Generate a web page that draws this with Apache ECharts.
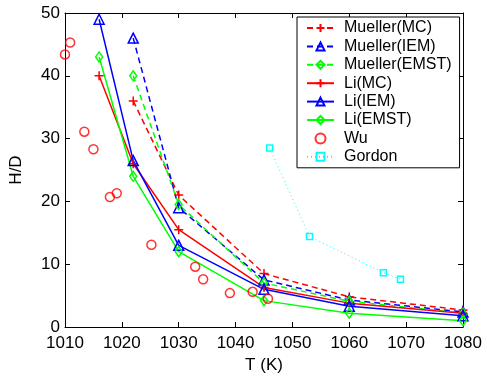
<!DOCTYPE html>
<html>
<head>
<meta charset="utf-8">
<script src="https://cdn.jsdelivr.net/npm/echarts@6/dist/echarts.min.js"></script>
<style>
  html, body { margin: 0; padding: 0; background: #fff; }
  #chart { width: 487px; height: 379px; }
</style>
</head>
<body>
<div id="chart"></div>
<script>
// Temperatures (K) of each model run
const muellerT = [1022, 1030, 1045, 1060, 1080];
const liT = [1016, 1022, 1030, 1045, 1060, 1080];

// Flame height ratio H/D for each model
const muellerMC = [36, 21, 8.5, 4.8, 2.7];
const muellerIEM = [46, 19, 7.5, 4.3, 2.4];
const muellerEMST = [40, 19.5, 7.0, 4.1, 2.2];
const liMC = [40, 26, 15.5, 6.3, 3.8, 2.2];
const liIEM = [49, 26.5, 13, 6.0, 3.3, 1.8];
const liEMST = [43, 24, 12, 4.2, 2.2, 1.0];

// Measurements
const wuT = [1010, 1010.9, 1013.4, 1015, 1017.9, 1019.1, 1025.2, 1032.9, 1034.3, 1039, 1043, 1045.7];
const wuH = [43.4, 45.3, 31.1, 28.3, 20.7, 21.3, 13.1, 9.6, 7.6, 5.4, 5.6, 4.5];
const gordonT = [1046, 1053, 1066, 1069];
const gordonH = [28.5, 14.4, 8.65, 7.6];

const xTicks = { min: 1010, max: 1080, interval: 10 };
const yTicks = { min: 0, max: 50, interval: 10 };

const FONT = 'Liberation Sans, Arial, Helvetica, sans-serif';
const PLUS = 'path://M5,0L5,10M0,5L10,5';

function pairs(xs, ys) { return xs.map((x, i) => [x, ys[i]]); }

function lineSeries(name, xs, ys, color, dashed, symbol, size) {
  return {
    name, type: 'line', data: pairs(xs, ys),
    symbol, symbolSize: size, showSymbol: true,
    lineStyle: { color, width: 1.5, type: dashed ? [6, 4] : 'solid' },
    itemStyle: { color: 'none', borderColor: color, borderWidth: 1.5 },
    emphasis: { disabled: true },
    animation: false, z: 3
  };
}

const chart = echarts.init(document.getElementById('chart'));

const baseAxis = {
  axisLine: { show: true, onZero: false, lineStyle: { color: '#000', width: 1 } },
  axisTick: { show: true, inside: true, length: 5, lineStyle: { color: '#000' } },
  splitLine: { show: false }
};

chart.setOption({
  backgroundColor: '#fff',
  animation: false,
  grid: { left: 64, right: 24, top: 13, bottom: 52 },
  xAxis: [
    Object.assign({}, baseAxis, {
      type: 'value', position: 'bottom', ...xTicks,
      name: 'T (K)', nameLocation: 'middle', nameGap: 30,
      nameTextStyle: { fontFamily: FONT, fontSize: 17, color: '#000' },
      axisLabel: { fontFamily: FONT, fontSize: 17, color: '#000', margin: 8,
                   formatter: v => String(v) }
    }),
    Object.assign({}, baseAxis, {
      type: 'value', position: 'top', ...xTicks,
      axisLabel: { show: false }
    })
  ],
  yAxis: [
    Object.assign({}, baseAxis, {
      type: 'value', position: 'left', ...yTicks,
      name: 'H/D', nameLocation: 'middle', nameGap: 40,
      nameTextStyle: { fontFamily: FONT, fontSize: 17, color: '#000' },
      axisLabel: { fontFamily: FONT, fontSize: 17, color: '#000', margin: 5 }
    }),
    Object.assign({}, baseAxis, {
      type: 'value', position: 'right', ...yTicks,
      axisLabel: { show: false }
    })
  ],
  legend: {
    orient: 'vertical', left: 297, top: 17,
    backgroundColor: '#fff', borderColor: '#000', borderWidth: 1,
    padding: [3, 8, 3, 9],
    itemWidth: 27, itemHeight: 10, itemGap: 2.4,
    textStyle: { fontFamily: FONT, fontSize: 16, color: '#000', padding: [0, 0, 0, 5] },
    data: ['Mueller(MC)', 'Mueller(IEM)', 'Mueller(EMST)', 'Li(MC)', 'Li(IEM)', 'Li(EMST)', 'Wu', 'Gordon']
  },
  series: [
    lineSeries('Mueller(MC)', muellerT, muellerMC, '#ff0000', true, PLUS, 9),
    lineSeries('Mueller(IEM)', muellerT, muellerIEM, '#0000ff', true, 'triangle', 10),
    lineSeries('Mueller(EMST)', muellerT, muellerEMST, '#00ff00', true, 'diamond', [7, 10]),
    lineSeries('Li(MC)', liT, liMC, '#ff0000', false, PLUS, 9),
    lineSeries('Li(IEM)', liT, liIEM, '#0000ff', false, 'triangle', 10),
    lineSeries('Li(EMST)', liT, liEMST, '#00ff00', false, 'diamond', [7, 10]),
    {
      name: 'Wu', type: 'scatter', data: pairs(wuT, wuH),
      symbol: 'circle', symbolSize: 9, clip: false,
      itemStyle: { color: 'none', borderColor: '#ff0000', borderWidth: 1.5 },
      emphasis: { disabled: true }, z: 3
    },
    {
      name: 'Gordon', type: 'line', data: pairs(gordonT, gordonH),
      symbol: 'rect', symbolSize: 6,
      lineStyle: { color: '#00ffff', width: 1, type: [1, 3] },
      itemStyle: { color: 'none', borderColor: '#00ffff', borderWidth: 1.5 },
      emphasis: { disabled: true }, z: 3
    }
  ]
});
</script>
</body>
</html>
